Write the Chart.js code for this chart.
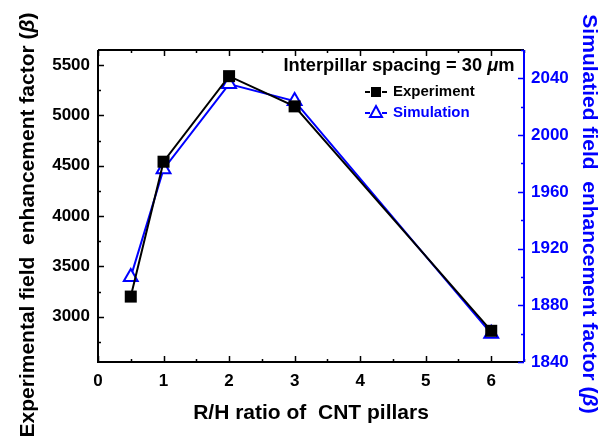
<!DOCTYPE html>
<html>
<head>
<meta charset="utf-8">
<script src="https://cdn.jsdelivr.net/npm/chart.js@4/dist/chart.umd.min.js"></script>
<style>
  html, body { margin: 0; padding: 0; background: #fff; }
  #wrap { width: 611px; height: 444px; }
</style>
</head>
<body>
<div id="wrap"><canvas id="fieldChart" width="611" height="444"></canvas></div>
<script>
const ratios = [0.5, 1, 2, 3, 6];
const experiment = [3200, 4540, 5390, 5090, 2860];
const simulation = [1900, 1976, 2036, 2024, 1860];

const xTicks = [0, 1, 2, 3, 4, 5, 6];
const xMinor = [0.5, 1.5, 2.5, 3.5, 4.5, 5.5, 6.5];
const leftTicks = [3000, 3500, 4000, 4500, 5000, 5500];
const leftMinor = [2750, 3250, 3750, 4250, 4750, 5250];
const rightTicks = [1840, 1880, 1920, 1960, 2000, 2040];
const rightMinor = [1860, 1900, 1940, 1980, 2020, 2060];

const BLUE = "#0000ff";
const FONT = "'Liberation Sans', Arial, sans-serif";

function fixTicks(list) {
  return function (scale) {
    scale.ticks = list.map(v => ({ value: v }));
  };
}

function plain(v) {
  return String(v);
}

// text made of runs with their own font style, centred on (cx, cy)
function drawRuns(ctx, runs, cx, cy, angle, size, color) {
  ctx.save();
  ctx.translate(cx, cy);
  ctx.rotate(angle);
  ctx.fillStyle = color;
  ctx.textBaseline = "middle";
  ctx.textAlign = "left";
  let total = 0;
  runs.forEach(([t, w]) => {
    ctx.font = w + " " + size + "px " + FONT;
    total += ctx.measureText(t).width;
  });
  let tx = -total / 2;
  runs.forEach(([t, w]) => {
    ctx.font = w + " " + size + "px " + FONT;
    ctx.fillText(t, tx, 0);
    tx += ctx.measureText(t).width;
  });
  ctx.restore();
}

// frame, inward ticks, axis titles, annotation and legend
const framePlugin = {
  id: "frame",
  afterDraw(chart) {
    const { ctx, chartArea: a, scales } = chart;
    const x = scales.x, yl = scales.y, yr = scales.y1;
    ctx.save();
    ctx.lineCap = "butt";

    ctx.strokeStyle = "#000";
    ctx.lineWidth = 2;
    ctx.beginPath();
    ctx.moveTo(a.left, a.top);
    ctx.lineTo(a.left, a.bottom);
    ctx.lineTo(a.right, a.bottom);
    ctx.moveTo(a.left, a.top);
    ctx.lineTo(a.right, a.top);
    ctx.stroke();

    ctx.lineWidth = 1.5;
    ctx.beginPath();
    xTicks.forEach(v => {
      const px = Math.round(x.getPixelForValue(v)) + 0.5;
      ctx.moveTo(px, a.bottom); ctx.lineTo(px, a.bottom - 6);
      ctx.moveTo(px, a.top); ctx.lineTo(px, a.top + 6);
    });
    xMinor.forEach(v => {
      const px = Math.round(x.getPixelForValue(v)) + 0.5;
      ctx.moveTo(px, a.bottom); ctx.lineTo(px, a.bottom - 3);
      ctx.moveTo(px, a.top); ctx.lineTo(px, a.top + 3);
    });
    leftTicks.forEach(v => {
      const py = Math.round(yl.getPixelForValue(v)) + 0.5;
      ctx.moveTo(a.left, py); ctx.lineTo(a.left + 6, py);
    });
    leftMinor.forEach(v => {
      const py = Math.round(yl.getPixelForValue(v)) + 0.5;
      ctx.moveTo(a.left, py); ctx.lineTo(a.left + 3, py);
    });
    ctx.stroke();

    ctx.strokeStyle = BLUE;
    ctx.lineWidth = 2;
    ctx.beginPath();
    ctx.moveTo(a.right, a.top);
    ctx.lineTo(a.right, a.bottom);
    ctx.stroke();
    ctx.lineWidth = 1.5;
    ctx.beginPath();
    rightTicks.forEach(v => {
      const py = Math.round(yr.getPixelForValue(v)) + 0.5;
      ctx.moveTo(a.right, py); ctx.lineTo(a.right - 6, py);
    });
    rightMinor.forEach(v => {
      const py = Math.round(yr.getPixelForValue(v)) + 0.5;
      ctx.moveTo(a.right, py); ctx.lineTo(a.right - 3, py);
    });
    ctx.stroke();
    ctx.restore();

    // y axis titles
    drawRuns(ctx, [
      ["Experimental field  enhancement factor (", "bold"],
      ["\u03b2", "italic bold"],
      [")", "bold"]
    ], 28, 225, -Math.PI / 2, 21, "#000");
    drawRuns(ctx, [
      ["Simulatied field  enhancement factor (", "bold"],
      ["\u03b2", "italic bold"],
      [")", "bold"]
    ], 589, 214, Math.PI / 2, 21, BLUE);

    // spacing note
    drawRuns(ctx, [
      ["Interpillar spacing = 30 ", "bold"],
      ["\u03bc", "italic bold"],
      ["m", "bold"]
    ], 399, 66, 0, 18.3, "#000");

    // legend
    ctx.save();
    ctx.textBaseline = "middle";
    ctx.textAlign = "left";
    ctx.font = "bold 15px " + FONT;
    const rows = [
      { y: 92, color: "#000", label: "Experiment", mark: "square" },
      { y: 113, color: BLUE, label: "Simulation", mark: "triangle" }
    ];
    rows.forEach(r => {
      ctx.strokeStyle = r.color;
      ctx.fillStyle = r.color;
      ctx.lineWidth = 2;
      ctx.beginPath();
      ctx.moveTo(365, r.y); ctx.lineTo(370, r.y);
      ctx.moveTo(382, r.y); ctx.lineTo(387, r.y);
      ctx.stroke();
      if (r.mark === "square") {
        ctx.fillRect(371, r.y - 5, 10, 10);
      } else {
        ctx.beginPath();
        ctx.moveTo(376, r.y - 7);
        ctx.lineTo(382, r.y + 4);
        ctx.lineTo(370, r.y + 4);
        ctx.closePath();
        ctx.stroke();
      }
      ctx.fillText(r.label, 393, r.y);
    });
    ctx.restore();
  }
};

const ctx = document.getElementById("fieldChart");

new Chart(ctx, {
  type: "line",
  data: {
    datasets: [
      {
        label: "Experiment",
        data: ratios.map((r, i) => ({ x: r, y: experiment[i] })),
        yAxisID: "y",
        borderColor: "#000",
        backgroundColor: "#000",
        borderWidth: 2,
        pointStyle: "rect",
        pointRadius: 8.5,
        pointBorderWidth: 0,
        tension: 0
      },
      {
        label: "Simulation",
        data: ratios.map((r, i) => ({ x: r, y: simulation[i] })),
        yAxisID: "y1",
        borderColor: BLUE,
        backgroundColor: "#fff",
        pointBackgroundColor: "#fff",
        pointBorderColor: BLUE,
        borderWidth: 2,
        pointStyle: "triangle",
        pointRadius: 8,
        pointBorderWidth: 2,
        tension: 0
      }
    ]
  },
  options: {
    responsive: false,
    animation: false,
    layout: { padding: { top: 50, right: 0, left: 0, bottom: 0 } },
    plugins: {
      legend: { display: false },
      tooltip: { enabled: false }
    },
    scales: {
      x: {
        type: "linear",
        min: 0,
        max: 6.5,
        afterBuildTicks: fixTicks(xTicks),
        afterFit(scale) { scale.height = 82; },
        grid: { display: false, drawTicks: false },
        border: { display: false },
        ticks: {
          color: "#000",
          padding: 9,
          callback: plain,
          font: { family: FONT, size: 17, weight: "bold" }
        },
        title: {
          display: true,
          text: "R/H ratio of  CNT pillars",
          color: "#000",
          padding: { top: 0, bottom: 18 },
          font: { family: FONT, size: 21, weight: "bold" }
        }
      },
      y: {
        position: "left",
        min: 2550,
        max: 5650,
        afterBuildTicks: fixTicks(leftTicks),
        afterFit(scale) { scale.width = 98; },
        grid: { display: false, drawTicks: false },
        border: { display: false },
        ticks: {
          color: "#000",
          padding: 8,
          callback: plain,
          font: { family: FONT, size: 17, weight: "bold" }
        },
        title: { display: false }
      },
      y1: {
        position: "right",
        min: 1840,
        max: 2060,
        afterBuildTicks: fixTicks(rightTicks),
        afterFit(scale) { scale.width = 87; },
        grid: { display: false, drawTicks: false },
        border: { display: false },
        ticks: {
          color: BLUE,
          padding: 7,
          callback: plain,
          font: { family: FONT, size: 17, weight: "bold" }
        },
        title: { display: false }
      }
    }
  },
  plugins: [framePlugin]
});
</script>
</body>
</html>
